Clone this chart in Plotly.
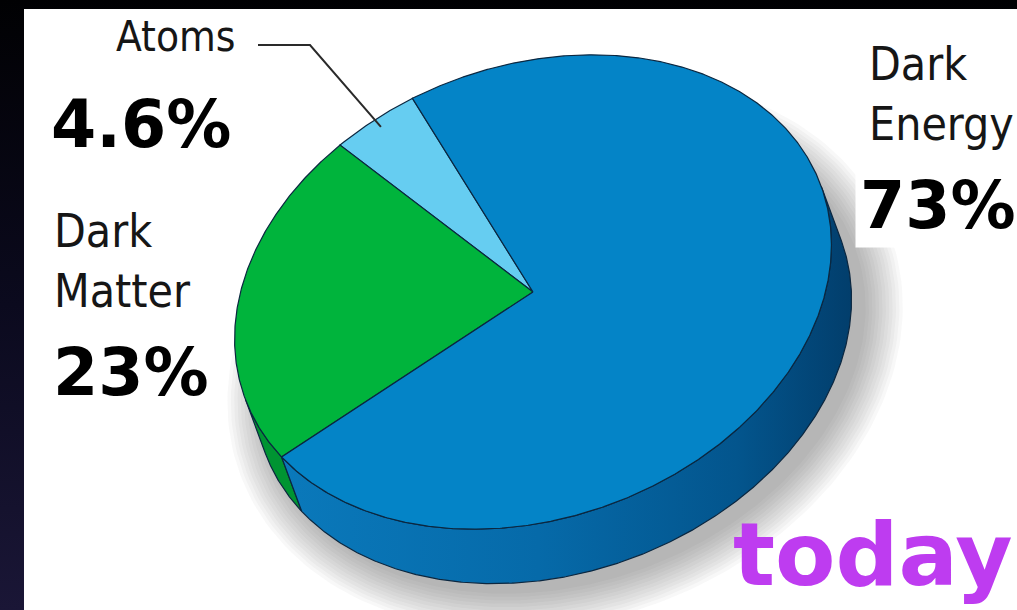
import numpy as np
import plotly.graph_objects as go

# ---- data -------------------------------------------------------------
labels = ["Atoms", "Dark Matter", "Dark Energy"]
values = [4.6, 23, 73]
top_colors = ["#66CDF1", "#00B43C", "#0484C7"]
side_colors = ["#4DB4DD", "#009432", "#0670B2"]

# ---- geometry of the tilted disc (screen pixels, y grows downward) ------
W, H = 1017, 610
CX, CY = 533, 292          # centre of the top face
RA, RB = 307, 226          # semi-axes of the top ellipse
TILT = np.radians(-20.3)   # rotation of the ellipse
DEPTH = 58                 # thickness of the disc
START = -98.6              # angle of the first slice edge (deg)
OUTLINE = "#0b2740"

cos_t, sin_t = np.cos(TILT), np.sin(TILT)
DX, DY = -sin_t * DEPTH, cos_t * DEPTH   # extrusion along the minor axis


def rim(t_deg, ra=RA, rb=RB, cx=CX, cy=CY):
    t = np.radians(t_deg)
    u, v = ra * np.cos(t), rb * np.sin(t)
    return cx + cos_t * u - sin_t * v, cy + sin_t * u + cos_t * v


fig = go.Figure()

# dark frame along the top and left edges (black at the top, navy lower down)
fig.add_trace(go.Scatter(
    x=[0, W, W, 24, 24, 0, 0], y=[0, 0, 9, 9, H, H, 0],
    mode="lines", fill="toself", line=dict(width=0),
    fillgradient=dict(type="vertical",
                      colorscale=[[0, "#1a1636"], [0.5, "#0b0a1e"], [1, "#010103"]]),
    hoverinfo="skip", showlegend=False))

# soft drop shadow under the disc
ang = np.linspace(0, 360, 241)
for k in range(12):
    sx, sy = rim(ang, RA + 2 + 3.4 * k, RB + 2 + 3.4 * k,
                 CX + DX + 12, CY + DY + 8)
    fig.add_trace(go.Scatter(
        x=sx, y=sy, mode="lines", fill="toself", line=dict(width=0),
        fillcolor="rgba(60,60,60,0.035)", hoverinfo="skip", showlegend=False))

# slice angles (counter-clockwise on screen = decreasing t)
total = sum(values)
edges = [START]
for v in values:
    edges.append(edges[-1] - 360.0 * v / total)

# side walls: only the part of the rim facing the viewer (sin t > 0)
for i, lab in enumerate(labels):
    t = np.linspace(edges[i], edges[i + 1], max(4, int(abs(edges[i] - edges[i + 1]) * 3)))
    front = np.sin(np.radians(t)) > 0
    runs, cur = [], []
    for tt, f in zip(t, front):
        if f:
            cur.append(tt)
        elif cur:
            runs.append(cur)
            cur = []
    if cur:
        runs.append(cur)
    for run in runs:
        tx, ty = rim(np.array(run))
        px = np.concatenate([tx, (tx + DX)[::-1], tx[:1]])
        py = np.concatenate([ty, (ty + DY)[::-1], ty[:1]])
        kw = {}
        if lab == "Dark Energy":
            kw["fillgradient"] = dict(
                type="horizontal",
                colorscale=[[0, "#0a79bb"], [0.45, "#066aa9"],
                            [0.8, "#03558d"], [1, "#023e6c"]])
        else:
            kw["fillcolor"] = side_colors[i]
        fig.add_trace(go.Scatter(
            x=px, y=py, mode="lines", fill="toself",
            line=dict(color=OUTLINE, width=1.2), hoverinfo="skip",
            showlegend=False, **kw))

# top face wedges
for i, lab in enumerate(labels):
    t = np.linspace(edges[i], edges[i + 1], max(4, int(abs(edges[i] - edges[i + 1]) * 3)))
    ax, ay = rim(t)
    fig.add_trace(go.Scatter(
        x=np.concatenate([[CX], ax, [CX]]), y=np.concatenate([[CY], ay, [CY]]),
        mode="lines", fill="toself", fillcolor=top_colors[i],
        line=dict(color=OUTLINE, width=1.2), name=lab,
        hovertemplate=f"{lab}: {values[i]:g}%<extra></extra>", showlegend=False))

# leader line from the "Atoms" label into its slice
mid = (edges[0] + edges[1]) / 2
ex, ey = rim(mid, RA * 0.96, RB * 0.96)
fig.add_trace(go.Scatter(
    x=[258, 310, ex], y=[45, 45, ey], mode="lines",
    line=dict(color="#2a2a2a", width=2), hoverinfo="skip", showlegend=False))

# ---- text -------------------------------------------------------------
NAME_FONT = "DejaVu Sans Condensed, Liberation Sans Narrow, sans-serif"
PCT_FONT = "DejaVu Sans, Verdana, sans-serif"
pct = {lab: f"{v:g}%" for lab, v in zip(labels, values)}


def note(text, x, y, size, family, color="#161616", weight="normal", **kw):
    fig.add_annotation(x=x, y=y, xref="x", yref="y", text=text, showarrow=False,
                       xanchor="left", yanchor="middle",
                       font=dict(family=family, size=size, color=color, weight=weight), **kw)


note("Atoms", 114, 36, 42, NAME_FONT)
note("Dark", 52, 231, 46, NAME_FONT)
note("Matter", 52, 291, 46, NAME_FONT)
note("Dark", 867, 64, 46, NAME_FONT)
note("Energy", 867, 124, 46, NAME_FONT)

note(pct["Atoms"], 49, 124, 65, PCT_FONT, color="#000000", weight="bold")
note(pct["Dark Matter"], 51, 372, 65, PCT_FONT, color="#000000", weight="bold")
note(pct["Dark Energy"], 855, 205, 65, PCT_FONT, color="#000000", weight="bold",
     bgcolor="#ffffff", borderpad=4)

note("today", 731, 554, 88, PCT_FONT, color="#BE3CF0", weight="bold")

fig.update_layout(
    width=W, height=H, autosize=False,
    margin=dict(l=0, r=0, t=0, b=0),
    paper_bgcolor="#ffffff", plot_bgcolor="#ffffff",
    xaxis=dict(range=[0, W], visible=False, fixedrange=True),
    yaxis=dict(range=[H, 0], visible=False, fixedrange=True),
    showlegend=False,
)

fig.write_html("out.html")
